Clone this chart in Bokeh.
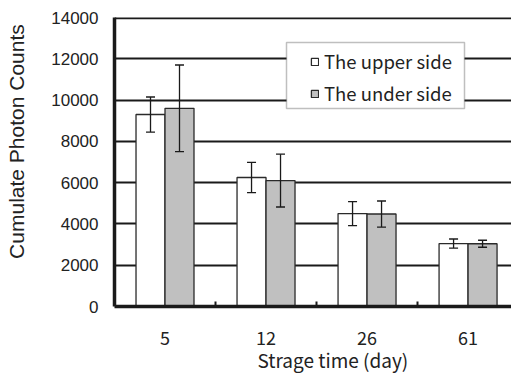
import numpy as np
from bokeh.plotting import figure
from bokeh.models import (ColumnDataSource, Range1d, FixedTicker, Whisker, TeeHead,
                          Legend, LegendItem, Title, Span, BoxAnnotation)
from bokeh.embed import file_html
from bokeh.resources import INLINE

days = ["5", "12", "26", "61"]
upper = [9300, 6250, 4500, 3050]
upper_err = [850, 730, 580, 220]
under = [9600, 6100, 4480, 3040]
under_err = [2100, 1280, 630, 170]
y_ticks = [0, 2000, 4000, 6000, 8000, 10000, 12000, 14000]

centers = np.arange(len(days)) + 0.5
bw = 0.287

src_up = ColumnDataSource(dict(
    x=centers - bw / 2, top=upper,
    lo=np.array(upper) - np.array(upper_err), hi=np.array(upper) + np.array(upper_err)))
src_un = ColumnDataSource(dict(
    x=centers + bw / 2, top=under,
    lo=np.array(under) - np.array(under_err), hi=np.array(under) + np.array(under_err)))

p = figure(width=511, height=374, output_backend="svg", toolbar_location=None,
           x_range=Range1d(0, 3.93), y_range=Range1d(0, 14000),
           min_border_left=114, min_border_right=0, min_border_top=17, min_border_bottom=68)
p.frame_width = 397
p.frame_height = 289
p.outline_line_color = None
p.background_fill_color = "white"
p.border_fill_color = "white"

TXT = "#222222"
EDGE = "#2a2a2a"

# grid
p.xgrid.visible = False
p.ygrid.ticker = FixedTicker(ticks=y_ticks)
p.ygrid.grid_line_color = "#1a1a1a"
p.ygrid.grid_line_width = 2

# axes
p.yaxis.ticker = FixedTicker(ticks=y_ticks)
p.yaxis.axis_line_width = 3.5
p.yaxis.axis_line_color = "#1a1a1a"
p.yaxis.major_tick_line_color = None
p.yaxis.major_tick_out = 0
p.yaxis.major_tick_in = 0
p.yaxis.minor_tick_line_color = None
p.yaxis.major_label_standoff = 16
p.yaxis.major_label_text_font = "Liberation Sans"
p.yaxis.major_label_text_font_size = "17px"
p.yaxis.major_label_text_color = TXT
# leading no-break spaces shift the centred label up, as in the original
p.yaxis.axis_label = "\u00a0" * 7 + "Cumulate Photon Counts"
p.yaxis.axis_label_standoff = 20
p.yaxis.axis_label_text_font = "Liberation Sans"
p.yaxis.axis_label_text_font_size = "21px"
p.yaxis.axis_label_text_font_style = "normal"
p.yaxis.axis_label_text_color = TXT

p.xaxis.ticker = FixedTicker(ticks=list(centers), minor_ticks=[1, 2, 3])
p.xaxis.major_label_overrides = {float(c): d for c, d in zip(centers, days)}
p.xaxis.axis_line_width = 3.5
p.xaxis.axis_line_color = "#1a1a1a"
p.xaxis.major_tick_line_color = None
p.xaxis.major_tick_out = 0
p.xaxis.major_tick_in = 0
p.xaxis.minor_tick_in = 5
p.xaxis.minor_tick_out = 0
p.xaxis.minor_tick_line_color = "#1a1a1a"
p.xaxis.minor_tick_line_width = 2
p.xaxis.major_label_standoff = 24
p.xaxis.major_label_text_font = "Noto Sans CJK JP"
p.xaxis.major_label_text_font_size = "18px"
p.xaxis.major_label_text_color = TXT

top_line = Span(location=14000, dimension="width", line_color="#1a1a1a", line_width=3.5)
p.add_layout(top_line)

r_up = p.vbar(x="x", top="top", width=bw, bottom=0, source=src_up,
              fill_color="white", line_color=EDGE, line_width=1.3)
r_un = p.vbar(x="x", top="top", width=bw, bottom=0, source=src_un,
              fill_color="#c0c0c0", line_color=EDGE, line_width=1.3)

for s in (src_up, src_un):
    w = Whisker(source=s, base="x", upper="hi", lower="lo", line_color="#1a1a1a", line_width=1.3,
                level="overlay",
                upper_head=TeeHead(size=9, line_color="#1a1a1a", line_width=1.3),
                lower_head=TeeHead(size=9, line_color="#1a1a1a", line_width=1.3))
    p.add_layout(w)

# legend frame (screen units, relative to the plot frame)
legend_box = BoxAnnotation(left=172, right=350, bottom=198, top=264,
                           left_units="screen", right_units="screen",
                           bottom_units="screen", top_units="screen",
                           fill_color="white", fill_alpha=1.0,
                           line_color="#2a2a2a", line_width=1.5, level="annotation")
p.add_layout(legend_box)

legend = Legend(items=[LegendItem(label="The upper side", renderers=[r_up]),
                       LegendItem(label="The under side", renderers=[r_un])],
                location=(196, 200), orientation="vertical",
                glyph_width=9, glyph_height=9, label_standoff=5,
                label_width=120, label_height=26, spacing=6, padding=0,
                margin=0,
                label_text_font="Noto Sans CJK JP", label_text_font_size="18.5px",
                label_text_color=TXT,
                border_line_color=None,
                background_fill_alpha=0.0)
p.add_layout(legend, "center")

xtitle = Title(text="Strage time (day)", align="left", offset=143, standoff=-8,
               text_font="Noto Sans CJK JP", text_font_size="19px", text_font_style="normal",
               text_color=TXT)
p.add_layout(xtitle, "below")

open("out.html", "w").write(file_html(p, INLINE))
